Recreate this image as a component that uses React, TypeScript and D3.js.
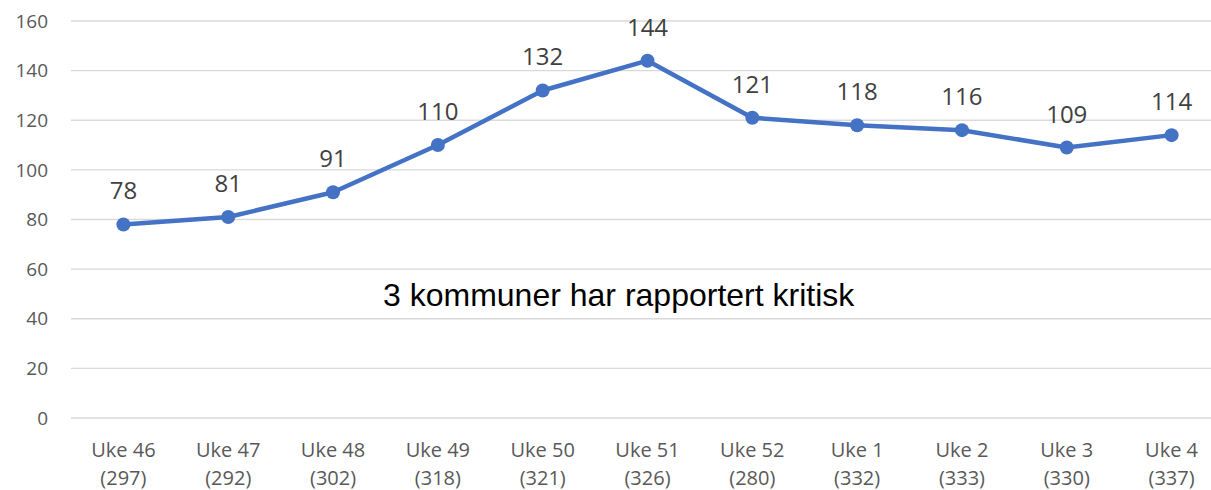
import React from "react";
import * as d3 from "d3";

const weeks = ["Uke 46", "Uke 47", "Uke 48", "Uke 49", "Uke 50", "Uke 51", "Uke 52", "Uke 1", "Uke 2", "Uke 3", "Uke 4"];
const reported = ["(297)", "(292)", "(302)", "(318)", "(321)", "(326)", "(280)", "(332)", "(333)", "(330)", "(337)"];
const values = [78, 81, 91, 110, 132, 144, 121, 118, 116, 109, 114];
const yTicks = [0, 20, 40, 60, 80, 100, 120, 140, 160];
const annotation = "3 kommuner har rapportert kritisk";

const W = 1211;
const H = 490;

export default function App() {
  const x = d3.scalePoint<string>().domain(weeks).range([71, 1224]).padding(0.5);
  const y = d3.scaleLinear().domain([0, 160]).range([418, 21]);
  const line = d3
    .line<number>()
    .x((_, i) => x(weeks[i]) as number)
    .y((d) => y(d));
  const font = "'Open Sans', sans-serif";
  return (
    <svg width={W} height={H} style={{ position: "absolute", left: 0, top: 0, background: "#fff" }}>
      {yTicks.map((t) => (
        <g key={t}>
          <line x1={71} x2={W} y1={y(t)} y2={y(t)} stroke="#D9D9D9" strokeWidth={1.3} />
          <text x={48} y={y(t)} dy="0.35em" textAnchor="end" fontFamily={font} fontSize={19} fill="#595959">
            {t}
          </text>
        </g>
      ))}
      {weeks.map((w, i) => (
        <g key={w}>
          <text x={x(w)} y={457} textAnchor="middle" fontFamily={font} fontSize={20} fill="#595959">
            {w}
          </text>
          <text x={x(w)} y={485} textAnchor="middle" fontFamily={font} fontSize={20} fill="#595959">
            {reported[i]}
          </text>
        </g>
      ))}
      <path d={line(values) || ""} fill="none" stroke="#4472C4" strokeWidth={4.5} strokeLinejoin="round" strokeLinecap="round" />
      {values.map((v, i) => (
        <circle key={i} cx={x(weeks[i])} cy={y(v)} r={7} fill="#4472C4" />
      ))}
      {values.map((v, i) => (
        <text key={"l" + i} x={x(weeks[i])} y={y(v) - 25} textAnchor="middle" fontFamily={font} fontSize={24} fill="#404040">
          {v}
        </text>
      ))}
      <text x={383} y={305.5} fontFamily="'Liberation Sans', Arial, sans-serif" fontSize={32} fill="#000">
        {annotation}
      </text>
    </svg>
  );
}
